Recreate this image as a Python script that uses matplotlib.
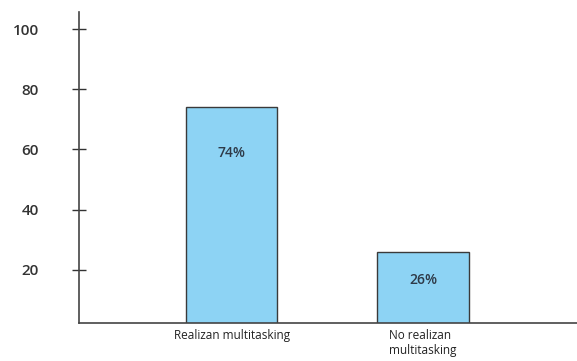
import matplotlib
matplotlib.use("Agg")
import matplotlib.pyplot as plt

# Survey results: share of people who multitask
categories = ["Realizan multitasking", "No realizan\nmultitasking"]
values = [74, 26]
value_labels = ["74%", "26%"]
y_ticks = [20, 40, 60, 80, 100]

plt.rcParams['font.family'] = ['Open Sans', 'DejaVu Sans']

fig = plt.figure(figsize=(5.77, 3.61), dpi=100)
ax = fig.add_axes([0.137, 0.105, 0.863, 0.862])

x = list(range(len(categories)))
bars = ax.bar(x, values, width=0.477, color='#8dd3f4', edgecolor='#3a3a3a', linewidth=1.0)

# value labels inside the bars
label_frac = [0.79, 0.61]
for xi, v, lab, f in zip(x, values, value_labels, label_frac):
    ax.text(xi, 2.3 + (v - 2.3) * f, lab, ha='center', va='center',
            fontsize=10, color='#2e3a48', fontweight='semibold')

ax.set_xlim(-0.80, 1.806)
ax.set_ylim(2.3, 105.7)

ax.set_yticks(y_ticks)
ax.set_yticklabels([str(t) for t in y_ticks], fontsize=11, color='#333333',
                   fontweight='semibold')
ax.tick_params(axis='y', direction='inout', length=10, width=1, color='#333333', pad=24)

ax.set_xticks(x)
ax.set_xticklabels(categories, fontsize=8.5, color='#222222', multialignment='left')
ax.tick_params(axis='x', length=0, pad=4)

for side in ['top', 'right']:
    ax.spines[side].set_visible(False)
for side in ['left', 'bottom']:
    ax.spines[side].set_color('#444444')
    ax.spines[side].set_linewidth(1.2)

fig.savefig("out.png", dpi=100)
